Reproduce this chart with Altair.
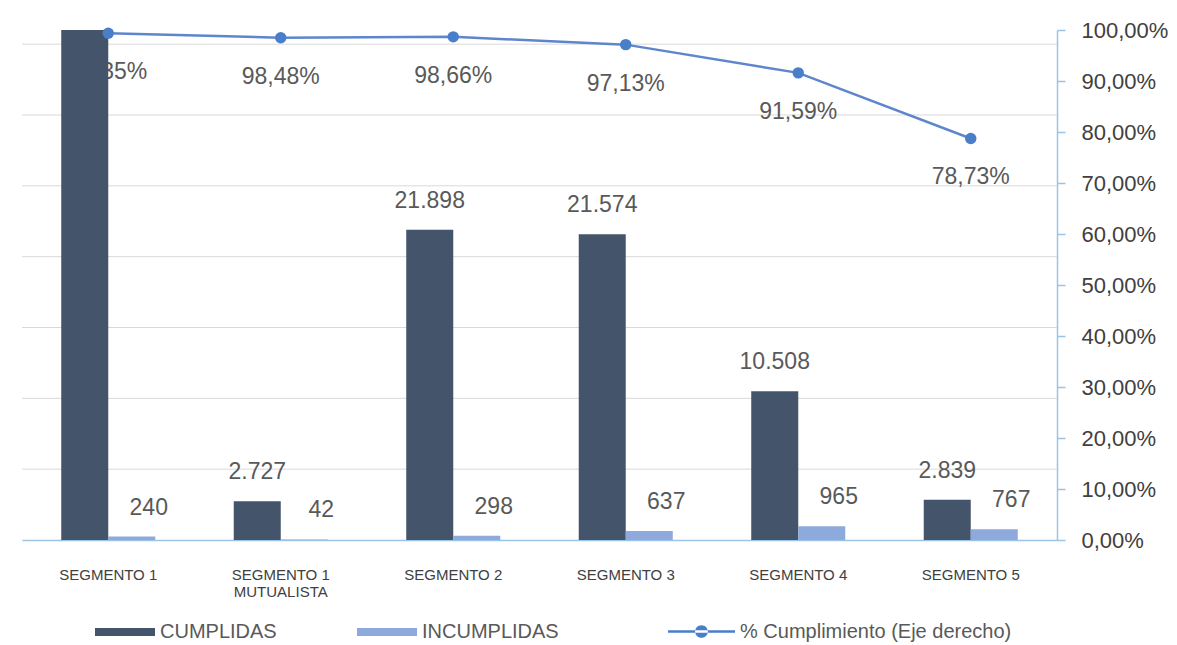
import altair as alt
import pandas as pd

# ---- data ----
segmentos = ["SEGMENTO 1", "SEGMENTO 1 MUTUALISTA", "SEGMENTO 2", "SEGMENTO 3", "SEGMENTO 4", "SEGMENTO 5"]
cumplidas = [36683, 2727, 21898, 21574, 10508, 2839]
incumplidas = [240, 42, 298, 637, 965, 767]
cumplimiento = [99.35, 98.48, 98.66, 97.13, 91.59, 78.73]
series = ["CUMPLIDAS", "INCUMPLIDAS"]
serie_linea = "% Cumplimiento (Eje derecho)"
left_ticks = [0, 5000, 10000, 15000, 20000, 25000, 30000, 35000]
right_ticks = [0, 0.1, 0.2, 0.3, 0.4, 0.5, 0.6, 0.7, 0.8, 0.9, 1.0]
left_max = 36000


def miles(v):
    return f"{v:,}".replace(",", ".")


bars_df = pd.DataFrame({
    "segmento": segmentos * 2,
    "serie": [series[0]] * len(segmentos) + [series[1]] * len(segmentos),
    "valor": cumplidas + incumplidas,
})
bars_df["etiqueta"] = bars_df["valor"].map(miles)

line_df = pd.DataFrame({
    "segmento": segmentos,
    "pct": [p / 100 for p in cumplimiento],
    "serie": [serie_linea] * len(segmentos),
    "etiqueta": [f"{p:.2f}".replace(".", ",") + "%" for p in cumplimiento],
})

grid_df = pd.DataFrame({"v": left_ticks[1:]})

FONT = "Liberation Sans"
AXIS_BLUE = "#9DC3E6"
LABEL_GRAY = "#595959"

x_enc = alt.X(
    "segmento:N",
    sort=segmentos,
    scale=alt.Scale(paddingInner=0.455, paddingOuter=0.2275),
    axis=alt.Axis(
        title=None, labelAngle=0, ticks=False, domainColor=AXIS_BLUE, domainWidth=1.5,
        labelFont=FONT, labelFontSize=15, labelColor="#404040", labelPadding=27,
        labelLineHeight=17, labelLimit=300,
        labelExpr="datum.label == 'SEGMENTO 1 MUTUALISTA' ? ['SEGMENTO 1', 'MUTUALISTA'] : datum.label",
    ),
)
xoff = alt.XOffset("serie:N", sort=series, scale=alt.Scale(paddingInner=0, paddingOuter=0))

y_left_scale = alt.Scale(domain=[0, left_max], nice=False, zero=True)
y_pct_scale = alt.Scale(domain=[0, 1], nice=False, zero=True)

rect_path = "M-1,-0.133L1,-0.133L1,0.133L-1,0.133Z"
line_path = ("M-1,-0.04L1,-0.04L1,0.04L-1,0.04Z "
             "M-0.19,0A0.19,0.19 0 1,0 0.19,0A0.19,0.19 0 1,0 -0.19,0Z")

# horizontal gridlines of the (hidden) left axis
grid = alt.Chart(grid_df).mark_rule(color="#D9D9D9", strokeWidth=1).encode(
    y=alt.Y("v:Q", scale=y_left_scale, axis=None),
)

# percentage labels (drawn before the bars so the first one is overlapped as in the reference)
pct_text = alt.Chart(line_df).mark_text(
    baseline="alphabetic", dy=46, fontSize=23, font=FONT, color=LABEL_GRAY
).encode(
    x=x_enc,
    y=alt.Y("pct:Q", scale=y_pct_scale, axis=None),
    text="etiqueta:N",
)

bars = alt.Chart(bars_df).mark_bar(clip=True).encode(
    x=x_enc,
    xOffset=xoff,
    y=alt.Y("valor:Q", scale=y_left_scale, axis=alt.Axis(
        title=None, orient="left", labels=False, ticks=False, values=left_ticks,
        domainColor=AXIS_BLUE, domainWidth=1.5, grid=False,
    )),
    color=alt.Color("serie:N", sort=series, scale=alt.Scale(domain=series, range=["#44546A", "#8EA9DB"]),
                    legend=alt.Legend(
                        title=None, orient="none", legendX=73, legendY=572, direction="horizontal",
                        symbolType=rect_path, symbolSize=3600, symbolStrokeWidth=0,
                        labelFont=FONT, labelFontSize=20, labelColor=LABEL_GRAY, labelOffset=5,
                        columnPadding=80, padding=0,
                    )),
)

bar_text_c = alt.Chart(bars_df).transform_filter(
    (alt.datum.serie == series[0]) & (alt.datum.valor <= left_max)
).mark_text(baseline="alphabetic", dy=-22, fontSize=23, font=FONT, color=LABEL_GRAY).encode(
    x=x_enc, xOffset=xoff,
    y=alt.Y("valor:Q", scale=y_left_scale, axis=None),
    text="etiqueta:N",
)
bar_text_i = alt.Chart(bars_df).transform_filter(
    alt.datum.serie == series[1]
).mark_text(baseline="alphabetic", dy=-22, dx=17, fontSize=23, font=FONT, color=LABEL_GRAY).encode(
    x=x_enc, xOffset=xoff,
    y=alt.Y("valor:Q", scale=y_left_scale, axis=None),
    text="etiqueta:N",
)

bars_layer = alt.layer(bars, bar_text_c, bar_text_i)

line = alt.Chart(line_df).mark_line(color="#5E86CC", strokeWidth=2.5).encode(
    x=x_enc,
    y=alt.Y("pct:Q", scale=y_pct_scale, axis=alt.Axis(
        title=None, orient="right", values=right_ticks, grid=False,
        labelExpr="replace(format(datum.value * 100, '.2f'), '.', ',') + '%'",
        domainColor=AXIS_BLUE, domainWidth=1.5, tickColor=AXIS_BLUE, tickSize=8, tickWidth=1.5,
        labelPadding=16, labelFont=FONT, labelFontSize=22, labelColor="#404040",
    )),
)
points = alt.Chart(line_df).mark_point(filled=True, size=130, opacity=1).encode(
    x=x_enc,
    y=alt.Y("pct:Q", scale=y_pct_scale),
    color=alt.Color("serie:N", scale=alt.Scale(domain=[serie_linea], range=["#4A7EC9"]),
                    legend=alt.Legend(
                        title=None, orient="none", legendX=646, legendY=568,
                        symbolType=line_path, symbolSize=4489, symbolStrokeWidth=0,
                        labelFont=FONT, labelFontSize=20, labelColor=LABEL_GRAY, labelOffset=5,
                        padding=0, labelLimit=400,
                    )),
)
line_layer = alt.layer(line, points)

chart = alt.layer(grid, pct_text, bars_layer, line_layer).resolve_scale(
    y="independent", color="independent"
).properties(
    width=1035, height=510,
    autosize=alt.AutoSizeParams(type="none"),
    padding={"left": 14, "top": 22, "right": 112, "bottom": 105},
    background="white",
).configure_view(stroke=None)

chart.save("out.html", embed_options={"renderer": "svg", "actions": False})
